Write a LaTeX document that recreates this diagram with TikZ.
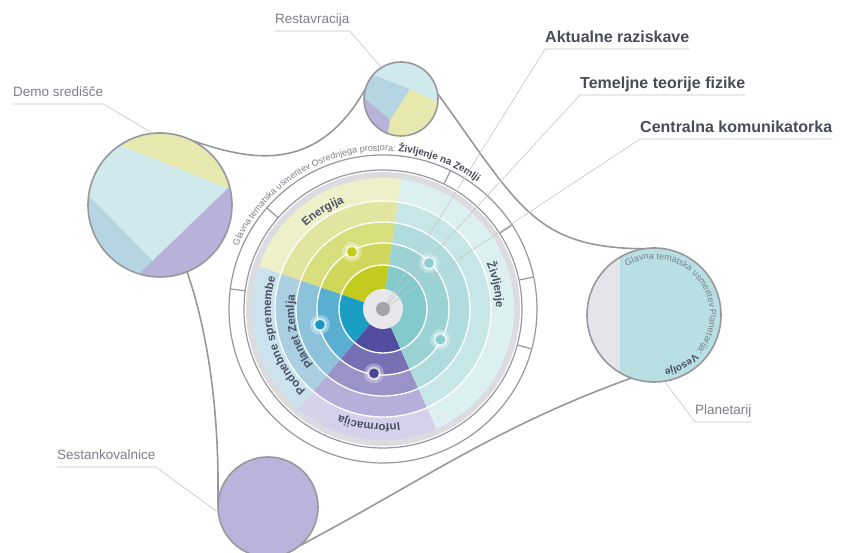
\documentclass[tikz,border=0pt]{standalone}
\usepackage{fontspec}
\setmainfont{Liberation Sans}
\usetikzlibrary{decorations.text, positioning}

\definecolor{linegray}{HTML}{97989D}
\definecolor{leadgray}{HTML}{C6C6CA}
\definecolor{txtgray}{HTML}{7E8088}
\definecolor{txtdark}{HTML}{484C58}
\definecolor{wheeltxt}{HTML}{4A5266}
\definecolor{rimgray}{HTML}{DCDCE0}
\definecolor{hubgray}{HTML}{E8E8EC}
\definecolor{dotgray}{HTML}{A3A4A8}
% sector bands, inner (1) to outer (5)
\definecolor{en1}{HTML}{C3CC1E}\definecolor{en2}{HTML}{CFD65A}\definecolor{en3}{HTML}{D8DE7C}
\definecolor{en4}{HTML}{E1E5A0}\definecolor{en5}{HTML}{EDF0C9}
\definecolor{zi1}{HTML}{83CACD}\definecolor{zi2}{HTML}{9BD3D5}\definecolor{zi3}{HTML}{B1DCDE}
\definecolor{zi4}{HTML}{C7E6E8}\definecolor{zi5}{HTML}{DDF0F1}
\definecolor{pz1}{HTML}{1B9EC3}\definecolor{pz2}{HTML}{5AAFD0}\definecolor{pz3}{HTML}{8CC3DA}
\definecolor{pz4}{HTML}{AACFE1}\definecolor{pz5}{HTML}{CCE2EC}
\definecolor{in1}{HTML}{524E9F}\definecolor{in2}{HTML}{7770B5}\definecolor{in3}{HTML}{9993C8}
\definecolor{in4}{HTML}{B5AFD9}\definecolor{in5}{HTML}{D5D1EA}
\definecolor{endot}{HTML}{C5CD10}\definecolor{pzdot}{HTML}{1899C0}
\definecolor{zidot}{HTML}{88CFD2}\definecolor{indot}{HTML}{4A4797}
% hall fills
\definecolor{dmyel}{HTML}{E6E8AE}\definecolor{dmcyan}{HTML}{D0E9EC}
\definecolor{dmblue}{HTML}{B5D5E3}\definecolor{dmlil}{HTML}{B8B2DA}
\definecolor{plgray}{HTML}{E4E4EA}\definecolor{plteal}{HTML}{B8DFE2}
\definecolor{sestlil}{HTML}{B8B4DB}

\newcommand\ringfont{\fontsize{9}{11}\selectfont\color{txtgray}}
\newcommand\ringbold{\bfseries\color{txtdark}}
\newcommand\wheelfont{\fontsize{11.5}{13}\selectfont\bfseries\color{wheeltxt}}

\tikzset{
  outline/.style={draw=linegray, line width=1.6pt},
  hall/.style={circle, minimum size=#1, inner sep=0pt},
  leader/.style={draw=leadgray, line width=0.6pt},
  roomlbl/.style={font=\fontsize{13.5}{16}\selectfont, text=txtgray,
    inner xsep=0pt, inner ysep=4pt, text depth=3pt, anchor=south west},
  topic/.style={font=\fontsize{16}{19}\selectfont\bfseries, text=txtdark,
    inner xsep=0pt, inner ysep=3pt, text depth=3.5pt, anchor=south west},
  ringline/.style={draw=linegray, line width=1.2pt},
  bandsep/.style={draw=white, line width=1.3pt},
  arctext/.style={decorate, decoration={text along path, text align=center, text={#1}}}
}

\begin{document}
\begin{tikzpicture}[x=1pt, y=1pt]
  \useasboundingbox (0,0) rectangle (847,553);
  \fill[white] (0,0) rectangle (847,553);

  \coordinate (c) at (383,244);
  \node[hall=74pt] (rest) at (401,454) {};
  \node[hall=144pt] (demo) at (160,348) {};
  \node[hall=134pt] (plan) at (654,238) {};
  \node[hall=100pt] (sest) at (268,46) {};

  % outline round the halls
  \draw[outline] (demo.62) .. controls (245,395) and (315,375) .. (rest.165);
  \draw[outline] (rest.8) .. controls (520,345) and (535,306) .. (plan.100);
  \draw[outline] (plan.250) to[out=200, in=28] (sest.-50);
  \draw[outline] (sest.178) .. controls (220,150) and (205,230) .. (demo.-68);

  % halls
  \begin{scope}
    \clip (demo.center) circle (72);
    \fill[dmcyan] (demo.center) circle (72);
    \fill[dmyel] (75,426) -- (260,352) -- (260,440) -- (75,440) -- cycle;
    \fill[dmblue] (60,386.5) -- (200,244) -- (60,244) -- cycle;
    \fill[dmlil] (250,386) -- (110,251) -- (110,200) -- (300,200) -- (300,386) -- cycle;
  \end{scope}
  \draw[outline] (demo.center) circle (72);

  \begin{scope}
    \clip (rest.center) circle (37);
    \fill[dmcyan] (rest.center) circle (37);
    \fill[dmblue] (350,487) -- (410,464) -- (385,410) -- (350,410) -- cycle;
    \fill[dmyel] (410,464) -- (445,447) -- (445,410) -- (385,410) -- (390,433) -- cycle;
    \fill[dmlil] (355,463) -- (390,433) -- (386,410) -- (355,410) -- cycle;
  \end{scope}
  \draw[outline] (rest.center) circle (37);

  \begin{scope}
    \clip (plan.center) circle (67);
    \fill[plgray] (plan.center) circle (67);
    \fill[plteal] (620,160) rectangle (730,320);
  \end{scope}
  \draw[outline] (plan.center) circle (67);
  \path[arctext={|\ringfont|Glavna tematska usmeritev Planetarija: |\ringbold|Vesolje}]
    ([shift={(140:56)}]plan.center) arc[start angle=140, end angle=-100, radius=56];

  \fill[sestlil] (sest.center) circle (50);
  \draw[outline] (sest.center) circle (50);

  % the wheel
  \begin{scope}[shift={(c)}]
    \fill[rimgray] (0,0) circle (137);
    \foreach \a/\b/\s in {82/161/en, 161/230/pz, 230/294/in, -66/82/zi}
      \foreach \r/\k in {131/5, 108/4, 87/3, 66/2, 44/1}
        \fill[fill=\s\k] (0,0) -- (\a:\r) arc[start angle=\a, end angle=\b, radius=\r] -- cycle;
    \foreach \r in {44,66,87,108}
      \draw[bandsep] (0,0) circle (\r);

    \foreach \ang/\s in {118.5/endot, 194/pzdot, 45/zidot, -28/zidot, 262/indot} {
      \fill[white, opacity=0.3] (\ang:65) circle (10);
      \fill[white, opacity=0.55] (\ang:65) circle (7);
      \fill[fill=\s] (\ang:65) circle (4.8);
    }
    \fill[hubgray] (0,0) circle (20);

    \draw[ringline] (0,0) circle (139);
    \draw[ringline] (0,0) circle (154);
    \foreach \t in {172.5, 139, 64, 33, 12, -15}
      \draw[ringline] (\t:139) -- (\t:154);

    \path[arctext={|\wheelfont|Energija}] (161:113) arc[start angle=161, end angle=82, radius=113];
    \path[arctext={|\wheelfont|Življenje}] (42:113) arc[start angle=42, end angle=-18, radius=113];
    \path[arctext={|\wheelfont|Informacija}] (292:115) arc[start angle=292, end angle=234, radius=115];
    \path[arctext={|\wheelfont|Podnebne spremembe}] (245:112) arc[start angle=245, end angle=145, radius=112];
    \path[arctext={|\wheelfont|Planet Zemlja}] (245:89) arc[start angle=245, end angle=145, radius=89];
    \path[arctext={|\ringfont|Glavna tematska usmeritev Osrednjega prostora: |\ringbold|Življenje na Zemlji}]
      (166:158) arc[start angle=166, end angle=44, radius=158];
  \end{scope}

  % labels
  \node[roomlbl] (restlbl) at (275,522) {Restavracija};
  \node[roomlbl] (demolbl) at (13,449) {Demo središče};
  \node[roomlbl] (sestlbl) at (57,86) {Sestankovalnice};
  \node[roomlbl] (planlbl) at (695,131) {Planetarij};
  \node[topic] (akt) at (545,504) {Aktualne raziskave};
  \node[topic] (tem) at (580,458) {Temeljne teorije fizike};
  \node[topic] (cen) at (640,414) {Centralna komunikatorka};

  \draw[leader] (restlbl.south west) -- (restlbl.south east) -- (rest.122);
  \draw[leader] (demolbl.south west) -- (demolbl.south east) -- (demo.96);
  \draw[leader] (sestlbl.south west) -- (sestlbl.south east) -- (sest.186);
  \draw[leader] (plan.-81) -- (planlbl.south west) -- (planlbl.south east);

  \node[circle, fill=dotgray, minimum size=14pt, inner sep=0pt] (hub) at (c) {};
  \draw[leader] (akt.south east) -- (akt.south west) -- (hub);
  \draw[leader] (tem.south east) -- (tem.south west) -- (hub);
  \draw[leader] (cen.south east) -- (cen.south west) -- (hub);
\end{tikzpicture}
\end{document}
